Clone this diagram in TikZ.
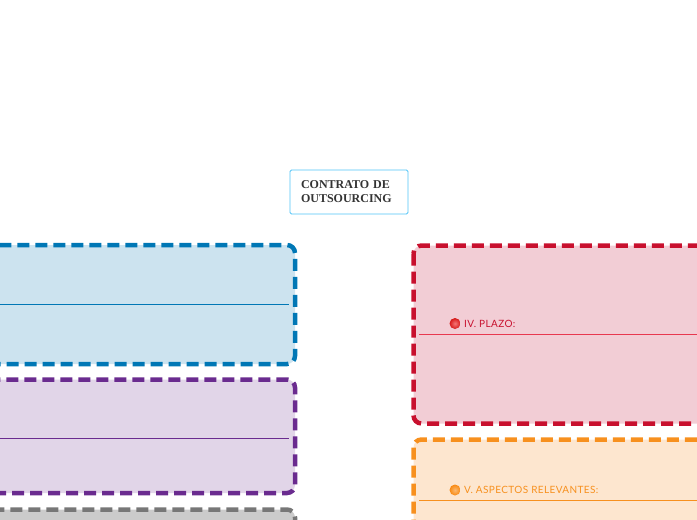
\documentclass[tikz,border=0pt]{standalone}
\usepackage{fontspec}
\setmainfont{Liberation Serif}
\newfontfamily\labelfont[LetterSpace=4]{Lato}
\usetikzlibrary{shadings}
\definecolor{blueS}{HTML}{0077B5}
\definecolor{blueF}{HTML}{CCE3EF}
\definecolor{purpS}{HTML}{6A2B8F}
\definecolor{purpF}{HTML}{E1D5E8}
\definecolor{grayS}{HTML}{777777}
\definecolor{grayF}{HTML}{CBCBCB}
\definecolor{redS}{HTML}{C8102E}
\definecolor{redF}{HTML}{F2CDD5}
\definecolor{redL}{HTML}{E8384F}
\definecolor{oranS}{HTML}{F7901E}
\definecolor{oranF}{HTML}{FDE6CF}
\definecolor{centS}{HTML}{4FC3F7}
\definecolor{redB}{HTML}{EE1C1C}
\definecolor{oranB}{HTML}{F98A12}
\tikzset{
  dashbox/.style={line width=4.5pt, dash pattern=on 12pt off 6pt, rounded corners=8pt},
  sepline/.style={line width=0.7pt},
  bullet/.style={circle, inner sep=0pt, minimum size=11pt},
  lbl/.style={font=\labelfont\fontsize{10}{12}\selectfont, inner sep=0pt, anchor=west},
  central/.style={draw=centS, line width=0.8pt, rounded corners=1.5pt, align=left,
     font=\bfseries\fontsize{12}{14}\selectfont, text=black!80, inner sep=0pt,
     minimum width=118pt, minimum height=44pt, text width=96pt}
}
\begin{document}
\begin{tikzpicture}[x=1pt,y=-1pt]
\useasboundingbox (0,0) rectangle (697,520);
\clip (0,0) rectangle (697,520);
% blue box
\fill[blueF, rounded corners=8pt] (-30,245) rectangle (295,364);
\draw[dashbox, draw=blueS] (-30,245) rectangle (295,364);
\coordinate (bl) at (-10,304);
\coordinate (br) at (289,304);
\draw[sepline, blueS] (bl) -- (br);
% purple box
\fill[purpF, rounded corners=8pt] (-30,379.5) rectangle (295,493);
\draw[dashbox, draw=purpS] (-30,379.5) rectangle (295,493);
\coordinate (pl) at (-10,438.5);
\coordinate (pr) at (289,438.5);
\draw[sepline, purpS] (pl) -- (pr);
% gray box
\fill[grayF, rounded corners=8pt] (-30,509.5) rectangle (295,580);
\draw[dashbox, draw=grayS] (-30,509.5) rectangle (295,580);
% red box
\fill[redF, rounded corners=8pt] (413.5,245.5) rectangle (730,423.5);
\draw[dashbox, draw=redS] (413.5,245.5) rectangle (730,423.5);
\coordinate (rl) at (419,334);
\coordinate (rr) at (710,334);
\draw[sepline, redL] (rl) -- (rr);
\node[bullet, shading=radial, inner color=redB!60!white, outer color=redB!90!black] (rb) at (455,323.5) {};
\node[lbl, text=redS] (rt) at (464,323.5) {IV.\ PLAZO:};
% orange box
\fill[oranF, rounded corners=8pt] (413.5,439.5) rectangle (730,580);
\draw[dashbox, draw=oranS] (413.5,439.5) rectangle (730,580);
\coordinate (ol) at (419,500.5);
\coordinate (or) at (710,500.5);
\draw[sepline, oranS] (ol) -- (or);
\node[bullet, shading=radial, inner color=oranB!60!white, outer color=oranB] (ob) at (455,490) {};
\node[lbl, text=oranS] (ot) at (464,490) {V.\ ASPECTOS RELEVANTES:};
% central node
\node[central] (c) at (349,192) {CONTRATO DE\\OUTSOURCING};
\end{tikzpicture}
\end{document}
